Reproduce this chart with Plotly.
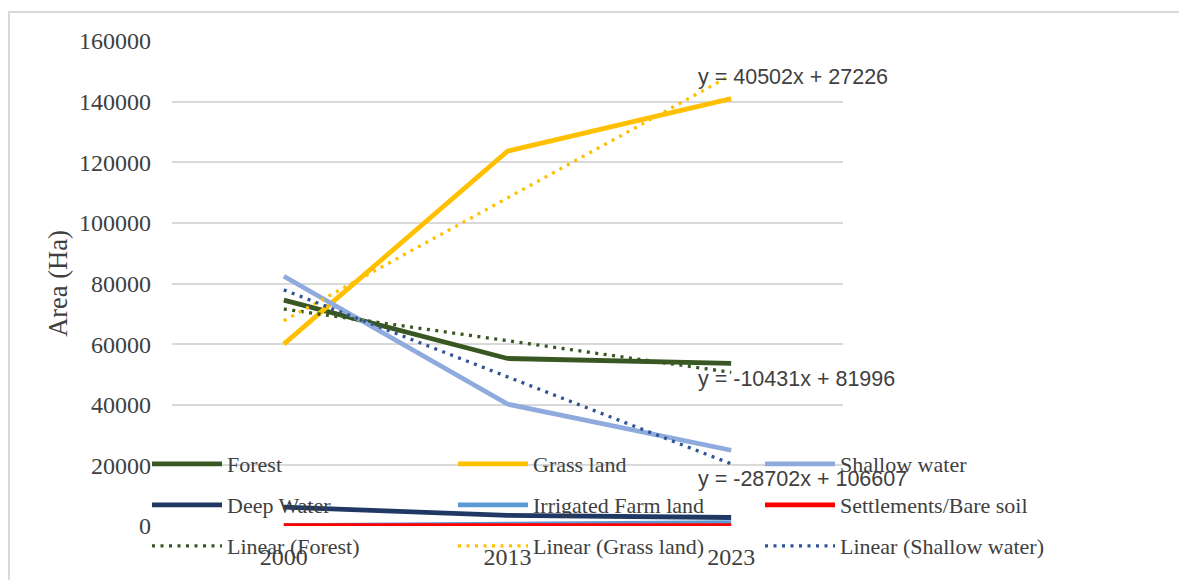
import numpy as np
import plotly.graph_objects as go

# ---- data ----
years = ["2000", "2013", "2023"]
forest = [74500, 55264, 53638]
grass_land = [60000, 123686, 141004]
shallow_water = [82400, 40213, 24996]
deep_water = [6200, 3500, 2800]
irrigated_farm = [150, 500, 1100]
settlements = [80, 100, 120]

y_ticks = [0, 20000, 40000, 60000, 80000, 100000, 120000, 140000, 160000]

series = [
    ("Forest", forest, "#385723"),
    ("Grass land", grass_land, "#FFC000"),
    ("Shallow water", shallow_water, "#8FAADC"),
    ("Deep Water", deep_water, "#1F3864"),
    ("Irrigated Farm land", irrigated_farm, "#5B9BD5"),
    ("Settlements/Bare soil", settlements, "#FF0000"),
]
trend_specs = [("Forest", forest, "#385723"),
               ("Grass land", grass_land, "#FFC000"),
               ("Shallow water", shallow_water, "#2F5597")]
# vertical placement (data units) of each trend equation label
eq_label_y = {"Forest": 48500, "Grass land": 148100, "Shallow water": 15500}

SERIF = "Liberation Serif, Times New Roman, serif"
TXT = "#404040"

legend_ids = ["legend"] + [f"legend{i}" for i in range(2, 10)]

fig = go.Figure()
k = 0
for name, vals, col in series:
    fig.add_trace(go.Scatter(x=years, y=vals, name=name, mode="lines",
                             line=dict(color=col, width=4.8),
                             legend=legend_ids[k]))
    k += 1

xs = np.arange(1, len(years) + 1)
for name, vals, col in trend_specs:
    slope, intercept = np.polyfit(xs, vals, 1)
    fit = slope * xs + intercept
    fig.add_trace(go.Scatter(x=years, y=fit, name=f"Linear ({name})", mode="lines",
                             line=dict(color=col, width=3.3, dash="3px,5.5px"),
                             legend=legend_ids[k]))
    k += 1
    sign = "+" if intercept >= 0 else "-"
    fig.add_annotation(x=2, y=eq_label_y[name], xref="x", yref="y",
                       text=f"y = {slope:.0f}x {sign} {abs(intercept):.0f}",
                       showarrow=False, xanchor="left", yanchor="middle", xshift=-35,
                       font=dict(family="Liberation Sans, Arial, sans-serif", size=21.5, color=TXT))

# chart border (extends beyond the visible window on right/bottom)
L, T, W, H = 164, 33, 671, 485
fig.add_shape(type="rect", xref="paper", yref="paper",
              x0=(1 - L) / W, x1=(1250 - L) / W,
              y0=(T + H - 640) / H, y1=(T + H - 4) / H,
              line=dict(color="#D9D9D9", width=2), fillcolor="rgba(0,0,0,0)", layer="below")

col_x = [139, 445, 752]
row_y = [456, 497, 538]
legends = {}
for i, lid in enumerate(legend_ids):
    r, c = divmod(i, 3)
    legends[lid] = dict(orientation="h", xref="container", yref="container",
                        x=col_x[c] / 1187, y=1 - row_y[r] / 580,
                        xanchor="left", yanchor="middle", itemwidth=70,
                        bgcolor="rgba(0,0,0,0)",
                        font=dict(family=SERIF, size=22, color=TXT))

fig.update_layout(
    width=1187, height=580,
    margin=dict(l=L, r=1187 - L - W, t=T, b=580 - T - H, autoexpand=False),
    paper_bgcolor="white", plot_bgcolor="white",
    showlegend=True,
    xaxis=dict(type="category", range=[-0.5, 2.5], showgrid=False, zeroline=False,
               showline=False, ticks="", ticklabelstandoff=14,
               tickfont=dict(family=SERIF, size=24, color=TXT)),
    yaxis=dict(range=[0, 160000], tickvals=y_ticks, ticktext=[str(v) for v in y_ticks],
               showgrid=True, gridcolor="#D9D9D9", gridwidth=1.5, zeroline=False,
               showline=False, ticks="", ticklabelstandoff=20,
               tickfont=dict(family=SERIF, size=24, color=TXT),
               title=dict(text="Area (Ha)", standoff=3,
                          font=dict(family=SERIF, size=26.5, color=TXT))),
    **legends,
)

fig.write_html("out.html")
